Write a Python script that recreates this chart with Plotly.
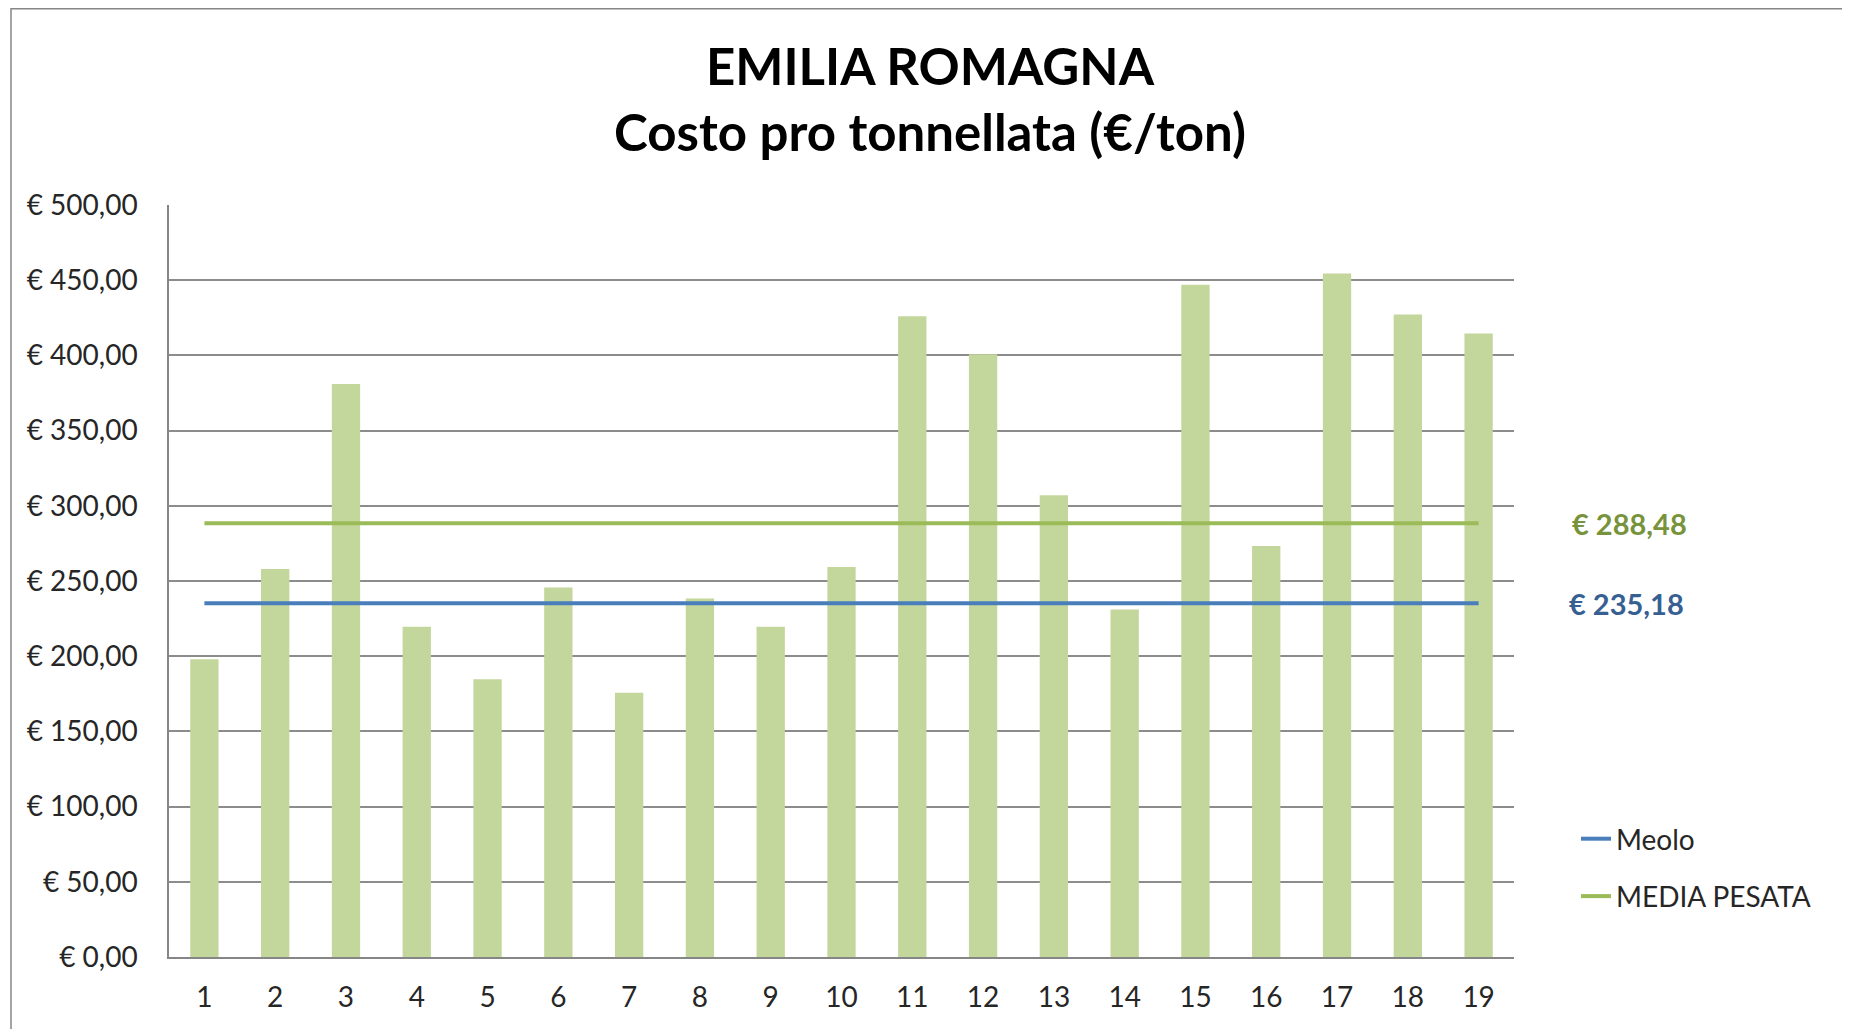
import plotly.graph_objects as go

categories = [str(i) for i in range(1, 20)]
costs = [198, 258, 381, 219.5, 184.6, 245.6, 175.7, 238.3, 219.5, 259.3,
         426, 400.7, 307, 231, 447, 273.3, 454.4, 427.2, 414.6]
meolo_value = 235.18
media_pesata_value = 288.48
meolo_label = "€ 235,18"
media_label = "€ 288,48"
y_ticks = [0, 50, 100, 150, 200, 250, 300, 350, 400, 450, 500]
y_tick_labels = ["€ 0,00", "€ 50,00", "€ 100,00", "€ 150,00", "€ 200,00", "€ 250,00",
                 "€ 300,00", "€ 350,00", "€ 400,00", "€ 450,00", "€ 500,00"]

W, H = 1850, 1029
OFF = 8  # default page body margin
# target plot area in page pixels
L, R, T, B = 169 - OFF, 1514 - OFF, 205 - OFF, 957 - OFF
pw, ph = R - L, B - T

def px(x):  # page pixel -> paper x
    return (x - OFF - L) / pw

def py(y):  # page pixel -> paper y
    return (B - (y - OFF)) / ph

FONT = "Lato"
fig = go.Figure()
fig.add_trace(go.Bar(x=categories, y=costs, marker=dict(color="#C3D69B", line=dict(width=0)),
                     showlegend=False, hoverinfo="x+y"))
fig.add_trace(go.Scatter(x=[categories[0], categories[-1]], y=[meolo_value, meolo_value],
                         mode="lines", name="Meolo", line=dict(color="#4A7EBB", width=4),
                         legendgroup="a"))
fig.add_trace(go.Scatter(x=[categories[0], categories[-1]], y=[media_pesata_value, media_pesata_value],
                         mode="lines", name="MEDIA PESATA", line=dict(color="#9BBB59", width=4),
                         legendgroup="b"))

fig.update_layout(
    width=W, height=H,
    margin=dict(l=L, r=W - R, t=T, b=H - B, pad=0),
    paper_bgcolor="white", plot_bgcolor="white",
    font=dict(family=FONT, size=28, color="#262626"),
    bargap=0.6,
    title=dict(text="<b>EMILIA ROMAGNA<br>Costo pro tonnellata (€/ton)</b>",
               x=(930 - OFF) / W, xref="container", xanchor="center",
               y=1 - 77 / H, yref="container", yanchor="middle",
               font=dict(family=FONT, size=51, color="#000000")),
    xaxis=dict(type="category", showgrid=False, showline=True, linecolor="#868686", linewidth=1.5,
               ticks="", tickfont=dict(size=28, color="#262626"), ticklabelstandoff=15,
               range=[-0.5, 18.5], fixedrange=True),
    yaxis=dict(range=[0, 500], tickvals=y_ticks, ticktext=y_tick_labels, showgrid=True,
               gridcolor="#8C8C8C", gridwidth=1.5, showline=True, linecolor="#868686", linewidth=1.5,
               ticks="", zeroline=False, tickfont=dict(size=28, color="#262626"),
               ticklabelstandoff=24),
    legend=dict(x=px(1576), xanchor="left", y=py(814), yanchor="top",
                traceorder="grouped", tracegroupgap=18, font=dict(size=28, color="#262626"),
                bgcolor="rgba(0,0,0,0)"),
    showlegend=True,
)

fig.add_annotation(x=px(1570), xref="paper", y=media_pesata_value, yref="y", text="<b>" + media_label + "</b>",
                   showarrow=False, xanchor="left", yanchor="middle",
                   font=dict(family=FONT, size=29, color="#77933C"))
fig.add_annotation(x=px(1567), xref="paper", y=meolo_value, yref="y", text="<b>" + meolo_label + "</b>",
                   showarrow=False, xanchor="left", yanchor="middle",
                   font=dict(family=FONT, size=29, color="#376092"))

fig.add_shape(type="rect", xref="paper", yref="paper",
              x0=px(11), x1=px(1870), y0=py(1050), y1=py(OFF + 0.75),
              line=dict(color="#868686", width=1.5), fillcolor="rgba(0,0,0,0)", layer="below")

fig.write_html("out.html")
